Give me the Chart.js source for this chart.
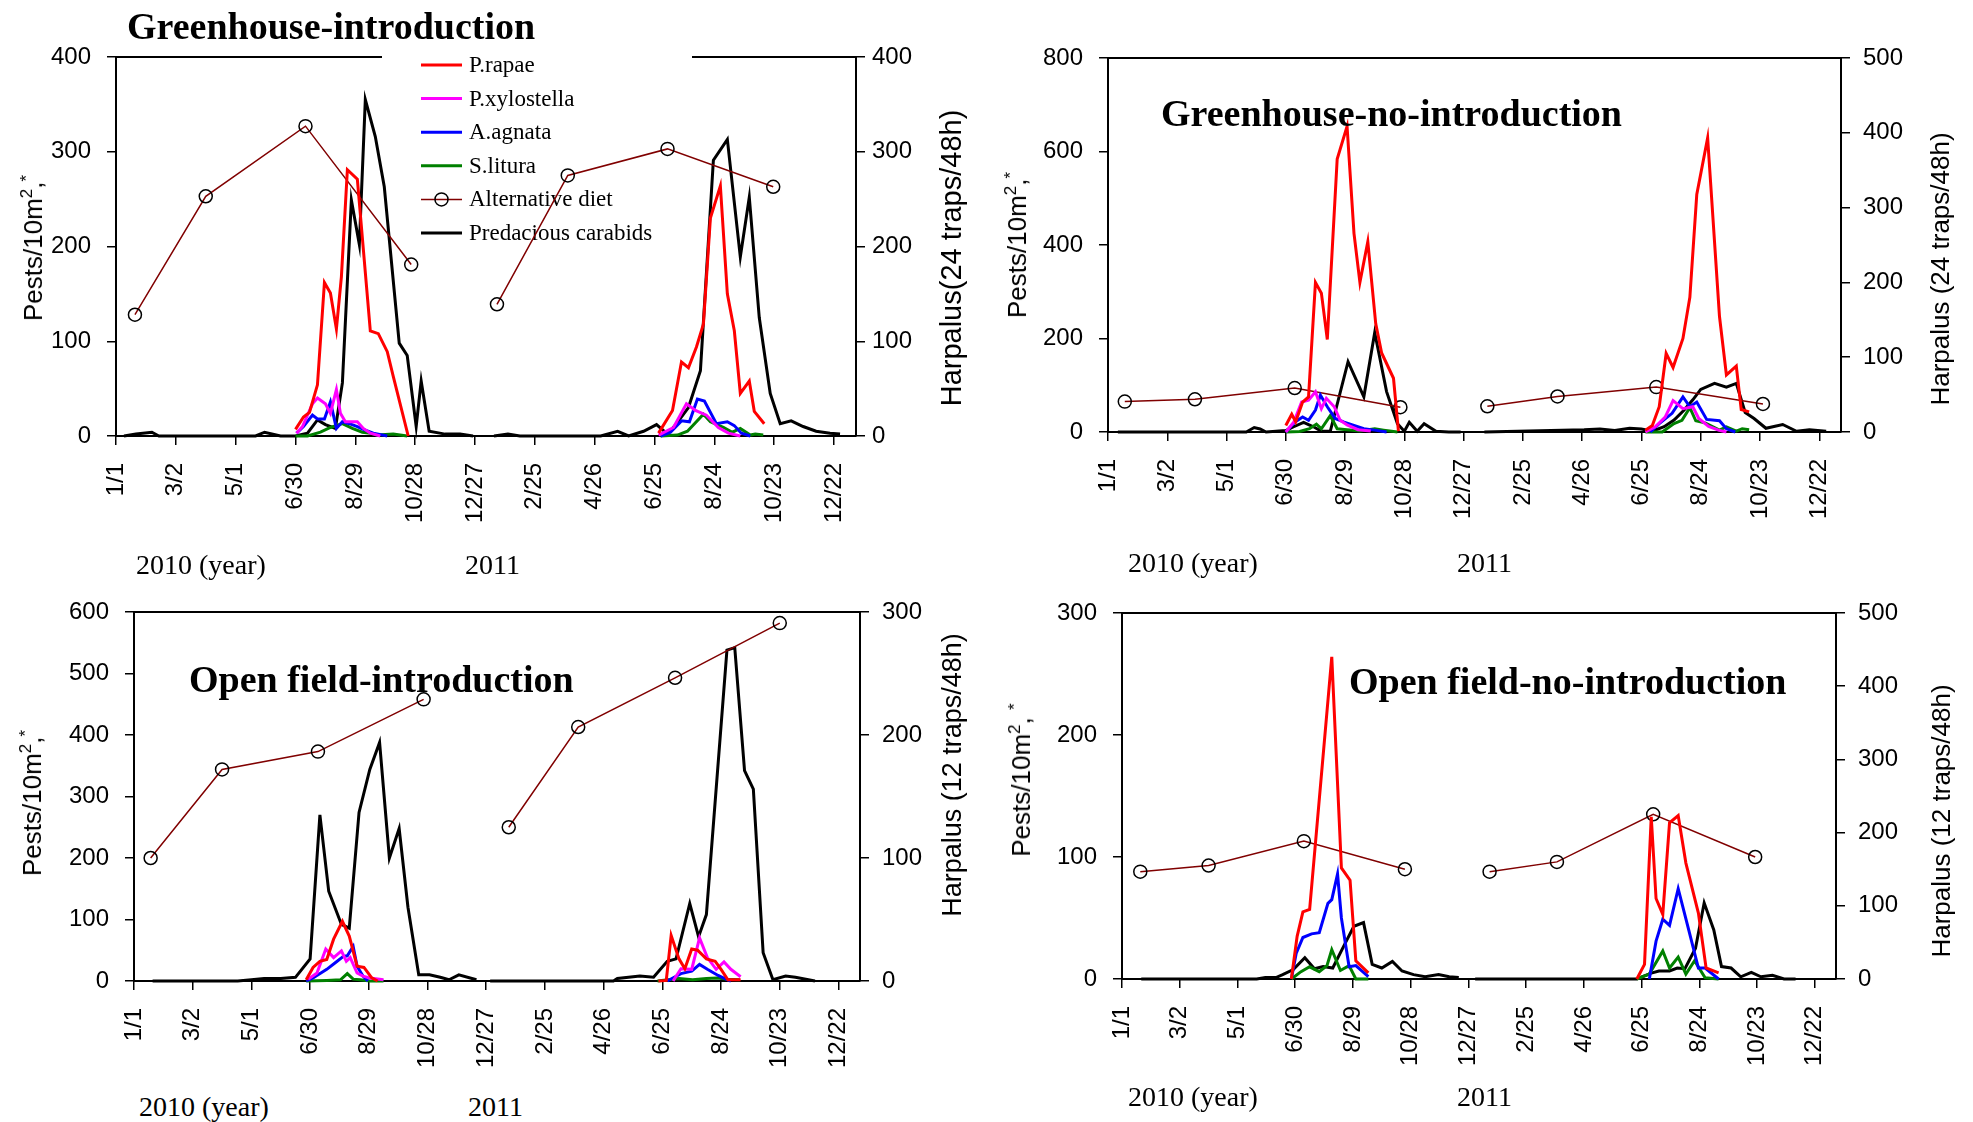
<!DOCTYPE html>
<html>
<head>
<meta charset="utf-8">
<script src="https://cdn.jsdelivr.net/npm/chart.js@4.4.0/dist/chart.umd.min.js"></script>
<style>
body { margin:0; width:1973px; height:1122px; background:#fff; position:relative; overflow:hidden; }
canvas { position:absolute; }
.t { position:absolute; white-space:nowrap; color:#000; }
.title { font: bold 38px 'Liberation Serif'; line-height:38px; }
.year { font: 28px 'Liberation Serif'; line-height:28px; }
.ax { font: 26px 'Liberation Sans'; line-height:26px; transform: translate(-50%,-50%) rotate(-90deg); }
sup { font-size: 17px; line-height: 0; }
</style>
</head>
<body>
<script>
// x axis: days since 1 Jan 2010
var tickDays = [0, 60, 120, 180, 240, 300, 360, 420, 480, 540, 600, 660, 720];
var tickLabels = ['1/1', '3/2', '5/1', '6/30', '8/29', '10/28', '12/27', '2/25', '4/26', '6/25', '8/24', '10/23', '12/22'];
var seriesNames = ['P.rapae', 'P.xylostella', 'A.agnata', 'S.litura', 'Alternative diet', 'Predacious carabids'];

// Greenhouse-introduction  [day, value]
var ghIntroRapae = [[180,7],[188,20],[194,25],[202,54],[209,162],[215,151],[221,113],[226,168],[232,281],[242,271],[255,111],[263,108],[272,89],[278,63],[293,0],[400,null],
  [544,3],[558,27],[567,78],[574,72],[582,94],[589,118],[596,230],[606,264],[613,150],[620,111],[626,45],[635,58],[640,26],[650,13]];
var ghIntroXylo = [[181,3],[187,10],[197,34],[202,40],[210,34],[215,24],[221,49],[225,24],[230,15],[242,15],[248,8],[255,3],[265,0],[400,null],
  [544,1],[559,9],[572,34],[581,27],[592,22],[604,9],[614,3],[626,0]];
var ghIntroAgnata = [[181,3],[188,10],[197,22],[202,18],[209,18],[215,36],[221,8],[227,15],[234,13],[242,10],[248,7],[258,3],[272,0],[400,null],
  [546,0],[556,4],[567,16],[575,15],[583,39],[590,37],[602,13],[613,15],[620,11],[627,3],[636,0]];
var ghIntroLitura = [[180,0],[192,0],[205,4],[215,9],[227,13],[237,8],[247,4],[255,3],[262,1],[278,2],[292,0],[400,null],
  [546,0],[563,1],[573,5],[589,23],[596,15],[609,9],[618,4],[626,8],[636,1],[641,2],[649,1]];
var ghIntroDiet = [[19,128],[90,253],[190,327],[296,181],[340,null],[382,139],[453,275],[553,303],[659,263]];
var ghIntroCarabid = [[8,0],[20,2],[36,4],[43,0],[140,0],[149,4],[165,0],[180,0],[192,3],[202,17],[210,12],[220,8],[227,56],[236,249],[244,202],[250,355],[260,316],[269,263],[284,98],[292,85],[301,10],[306,58],[314,5],[330,2],[345,2],[358,0],[368,null],
  [379,0],[393,2],[405,0],[486,0],[503,5],[514,0],[529,5],[542,12],[553,2],[562,13],[574,30],[586,69],[599,291],[613,313],[626,189],[635,252],[645,125],[656,45],[666,13],[677,16],[689,10],[702,5],[716,3],[726,2]];

// Greenhouse-no-introduction
var ghNoRapae = [[180,14],[186,38],[190,22],[197,64],[203,75],[210,320],[216,297],[222,198],[232,584],[242,654],[249,425],[255,320],[263,407],[271,232],[277,169],[289,115],[294,2],[400,null],
  [544,4],[551,14],[558,54],[565,168],[572,138],[582,200],[589,288],[596,508],[607,629],[619,247],[626,122],[636,141],[641,48],[649,43]];
var ghNoXylo = [[180,0],[188,21],[196,64],[203,68],[210,86],[216,50],[221,72],[229,54],[235,25],[242,15],[253,5],[266,2],[400,null],
  [544,0],[554,11],[564,32],[572,67],[582,50],[592,54],[598,29],[608,12],[618,4],[626,0]];
var ghNoAgnata = [[180,0],[189,21],[197,32],[203,25],[210,47],[215,79],[222,54],[230,29],[239,21],[249,14],[259,7],[270,4],[282,0],[400,null],
  [549,0],[558,18],[571,40],[582,75],[589,54],[596,64],[606,27],[619,24],[626,7],[635,0]];
var ghNoLitura = [[180,0],[194,1],[204,7],[211,17],[216,7],[225,35],[232,7],[242,5],[255,2],[270,7],[279,4],[293,0],[400,null],
  [544,0],[561,0],[573,18],[581,25],[589,52],[595,24],[605,19],[619,4],[626,11],[636,2],[642,7],[649,5]];
var ghNoDiet = [[17,65],[88,70],[189,94],[296,53],[340,null],[384,55],[455,76],[555,96],[663,60]];
var ghNoCarabid = [[10,0],[140,0],[148,6],[154,4],[160,0],[180,2],[188,7],[198,13],[208,7],[216,1],[225,1],[243,94],[259,47],[270,133],[282,54],[293,11],[300,1],[305,13],[313,1],[320,11],[332,1],[345,0],[357,0],[368,null],
  [381,0],[482,3],[498,4],[513,2],[528,5],[540,4],[551,1],[563,7],[573,16],[583,29],[592,43],[600,57],[614,65],[626,60],[636,65],[645,26],[654,18],[666,5],[683,10],[697,1],[710,3],[727,1]];

// Open field-introduction
var ofIntroRapae = [[176,2],[183,22],[190,32],[197,35],[204,68],[213,97],[220,73],[228,24],[235,22],[243,5],[249,0],[400,null],
  [536,0],[544,1],[549,74],[557,36],[563,20],[570,52],[576,50],[585,36],[594,32],[600,19],[607,2],[620,2]];
var ofIntroXylo = [[178,3],[187,13],[196,52],[204,38],[212,49],[217,32],[221,38],[228,13],[234,8],[241,5],[255,2],[400,null],
  [551,0],[559,20],[570,19],[578,70],[586,38],[595,19],[603,31],[610,19],[620,7]];
var ofIntroAgnata = [[176,0],[183,5],[197,19],[206,30],[214,40],[218,41],[224,56],[228,24],[234,8],[239,0],[400,null],
  [545,0],[559,12],[570,16],[578,27],[586,19],[597,9],[605,3],[610,0]];
var ofIntroLitura = [[176,0],[197,1],[211,2],[218,12],[224,3],[231,2],[241,0],[255,0],[400,null],
  [535,0],[557,4],[571,2],[585,4],[596,5],[607,3],[619,2]];
var ofIntroDiet = [[17,200],[90,344],[188,373],[296,458],[340,null],[383,250],[454,413],[553,493],[660,582]];
var ofIntroCarabid = [[19,0],[106,0],[120,1],[133,2],[150,2],[165,3],[180,18],[190,135],[199,73],[212,46],[220,43],[230,137],[241,172],[251,194],[261,100],[271,124],[280,60],[291,5],[302,5],[313,3],[322,1],[332,5],[350,1],[358,null],
  [364,0],[490,0],[494,2],[517,4],[531,3],[545,16],[554,18],[568,63],[577,36],[585,54],[606,269],[614,271],[624,171],[633,156],[643,23],[653,1],[666,4],[676,3],[696,0]];

// Open field-no-introduction
var ofNoRapae = [[176,0],[182,35],[188,55],[195,57],[218,264],[228,91],[237,81],[243,15],[256,5],[400,null],
  [535,0],[543,12],[550,133],[555,66],[562,53],[569,128],[578,134],[586,95],[599,54],[607,9],[620,5]];
var ofNoAgnata = [[176,0],[181,21],[188,34],[197,37],[205,38],[214,62],[218,65],[224,86],[228,50],[236,10],[243,11],[256,2],[400,null],
  [548,0],[555,31],[562,49],[569,44],[578,74],[589,40],[599,9],[606,9],[620,0]];
var ofNoLitura = [[176,0],[186,6],[195,10],[205,6],[213,11],[218,24],[227,7],[236,11],[243,0],[256,0],[400,null],
  [535,0],[548,4],[562,23],[569,9],[578,18],[586,4],[595,15],[606,1],[620,0]];
var ofNoDiet = [[19,88],[90,93],[189,113],[294,90],[340,null],[382,88],[452,96],[552,135],[658,100]];
var ofNoCarabid = [[20,0],[140,0],[149,2],[160,2],[167,6],[178,13],[190,29],[200,14],[209,17],[219,15],[232,49],[241,72],[251,77],[260,20],[270,15],[281,24],[291,11],[303,6],[315,3],[329,6],[340,3],[350,2],[358,null],
  [367,0],[535,0],[550,8],[558,11],[569,11],[577,15],[585,14],[596,42],[605,104],[615,67],[623,17],[633,15],[643,3],[654,9],[664,3],[676,5],[688,0],[700,0]];

var colors = ['#ff0000', '#ff00ff', '#0000ff', '#008000', '#800000', '#000000'];

function pts(a) { return a.map(function (p) { return { x: p[0], y: p[1] }; }); }

function sets(list) {
  var out = [];
  list.forEach(function (arr, i) {
    if (!arr) return;
    var d = {
      label: seriesNames[i], data: pts(arr), borderColor: colors[i], backgroundColor: colors[i],
      borderWidth: 3, pointRadius: 0, tension: 0, spanGaps: false, clip: false,
      yAxisID: i == 5 ? 'y2' : 'y'
    };
    if (i == 4) {
      d.borderWidth = 1.5;
      d.pointRadius = 6.5;
      d.pointBorderColor = '#000';
      d.pointBackgroundColor = 'rgba(0,0,0,0)';
      d.pointBorderWidth = 1.5;
    }
    out.push(d);
  });
  return out;
}

var frameAndLegend = {
  id: 'frameAndLegend',
  beforeDatasetsDraw: function (chart, args, opts) {
    var ctx = chart.ctx, a = chart.chartArea;
    ctx.save();
    ctx.strokeStyle = '#000';
    ctx.lineWidth = 2;
    ctx.beginPath();
    ctx.moveTo(a.left, a.top);
    ctx.lineTo(a.right, a.top);
    ctx.stroke();
    if (opts.show) {
      ctx.fillStyle = '#fff';
      ctx.fillRect(a.left + 266, a.top - 12, 310, 205);
      ctx.font = '23px "Liberation Serif"';
      ctx.textBaseline = 'middle';
      chart.data.datasets.forEach(function (d, i) {
        var y = a.top + 8 + i * 33.6;
        var x0 = a.left + 305, x1 = a.left + 346;
        ctx.strokeStyle = d.borderColor;
        ctx.lineWidth = d.borderWidth;
        ctx.beginPath();
        ctx.moveTo(x0, y);
        ctx.lineTo(x1, y);
        ctx.stroke();
        if (d.pointRadius > 0) {
          ctx.strokeStyle = '#000';
          ctx.lineWidth = 1.5;
          ctx.beginPath();
          ctx.arc((x0 + x1) / 2, y, 6.5, 0, Math.PI * 2);
          ctx.stroke();
        }
        ctx.fillStyle = '#000';
        ctx.fillText(d.label, a.left + 353, y + 1);
      });
    }
    ctx.restore();
  }
};

function makeChart(p) {
  var axL = 110, axR = 100, padTop = 40, axB = 110;
  var w = (p.R - p.L) + axL + axR, h = (p.B - p.T) + padTop + axB;
  var cv = document.createElement('canvas');
  cv.width = w; cv.height = h;
  cv.style.width = w + 'px'; cv.style.height = h + 'px';
  cv.style.left = (p.L - axL) + 'px'; cv.style.top = (p.T - padTop) + 'px';
  document.body.appendChild(cv);
  var tickFont = { family: 'Liberation Sans', size: 24 };
  var grid = { drawOnChartArea: false, drawTicks: true, tickLength: 9, color: '#000', lineWidth: 1.5 };
  var border = { display: true, color: '#000', width: 2 };
  new Chart(cv.getContext('2d'), {
    type: 'line',
    data: { datasets: sets(p.series) },
    options: {
      responsive: false, animation: false, devicePixelRatio: 1,
      layout: { padding: { top: padTop, left: 0, right: 0, bottom: 0 } },
      plugins: { legend: { display: false }, tooltip: { enabled: false }, frameAndLegend: { show: !!p.legend } },
      scales: {
        x: {
          type: 'linear', min: 0, max: 742,
          afterBuildTicks: function (s) { s.ticks = tickDays.map(function (v) { return { value: v }; }); },
          afterFit: function (s) { s.height = axB; },
          ticks: {
            autoSkip: false, minRotation: 90, maxRotation: 90, padding: 18, font: tickFont, color: '#000',
            callback: function (v) { var k = tickDays.indexOf(v); return k < 0 ? '' : tickLabels[k]; }
          },
          grid: grid, border: border
        },
        y: {
          position: 'left', min: 0, max: p.yMax,
          afterFit: function (s) { s.width = axL; },
          ticks: { stepSize: p.yStep, padding: 16, font: tickFont, color: '#000' },
          grid: grid, border: border
        },
        y2: {
          position: 'right', min: 0, max: p.y2Max,
          afterFit: function (s) { s.width = axR; },
          ticks: { stepSize: 100, padding: p.rPad, font: tickFont, color: '#000' },
          grid: grid, border: border
        }
      }
    },
    plugins: [frameAndLegend]
  });
}

var panels = [
  { L: 116, R: 856, T: 57, B: 436, yMax: 400, yStep: 100, y2Max: 400, rPad: 7, legend: true,
    series: [ghIntroRapae, ghIntroXylo, ghIntroAgnata, ghIntroLitura, ghIntroDiet, ghIntroCarabid] },
  { L: 1108, R: 1841, T: 58, B: 432, yMax: 800, yStep: 200, y2Max: 500, rPad: 13,
    series: [ghNoRapae, ghNoXylo, ghNoAgnata, ghNoLitura, ghNoDiet, ghNoCarabid] },
  { L: 134, R: 860, T: 612, B: 981, yMax: 600, yStep: 100, y2Max: 300, rPad: 13,
    series: [ofIntroRapae, ofIntroXylo, ofIntroAgnata, ofIntroLitura, ofIntroDiet, ofIntroCarabid] },
  { L: 1122, R: 1836, T: 613, B: 979, yMax: 300, yStep: 100, y2Max: 500, rPad: 13,
    series: [ofNoRapae, null, ofNoAgnata, ofNoLitura, ofNoDiet, ofNoCarabid] }
];
panels.forEach(makeChart);

// text labels
var texts = [
  ['title', 'Greenhouse-introduction', 127, 26],
  ['title', 'Greenhouse-no-introduction', 1161, 113],
  ['title', 'Open field-introduction', 189, 679],
  ['title', 'Open field-no-introduction', 1349, 681],
  ['year', '2010 (year)', 136, 565], ['year', '2011', 465, 565],
  ['year', '2010 (year)', 1128, 563], ['year', '2011', 1457, 563],
  ['year', '2010 (year)', 139, 1107], ['year', '2011', 468, 1107],
  ['year', '2010 (year)', 1128, 1097], ['year', '2011', 1457, 1097]
];
texts.forEach(function (t) {
  var d = document.createElement('div');
  d.className = 't ' + t[0];
  d.textContent = t[1];
  d.style.left = t[2] + 'px';
  d.style.top = (t[3] - (t[0] == 'title' ? 19 : 14)) + 'px';
  document.body.appendChild(d);
});
var axTitles = [
  ['Pests/10m<sup>2</sup>,<sup>*</sup>', 33, 248, 26],
  ['Pests/10m<sup>2</sup>,<sup>*</sup>', 1017, 245, 26],
  ['Pests/10m<sup>2</sup>,<sup>*</sup>', 32, 803, 26],
  ['Pests/10m<sup>2</sup>, <sup>*</sup>', 1021, 780, 26],
  ['Harpalus(24 traps/48h)', 951, 258, 29],
  ['Harpalus (24 traps/48h)', 1940, 269, 26],
  ['Harpalus (12 traps/48h)', 952, 775, 27],
  ['Harpalus (12 traps/48h)', 1941, 821, 26]
];
axTitles.forEach(function (t) {
  var d = document.createElement('div');
  d.className = 't ax';
  d.innerHTML = t[0];
  d.style.left = t[1] + 'px';
  d.style.top = t[2] + 'px';
  d.style.fontSize = t[3] + 'px';
  document.body.appendChild(d);
});
</script>
</body>
</html>
